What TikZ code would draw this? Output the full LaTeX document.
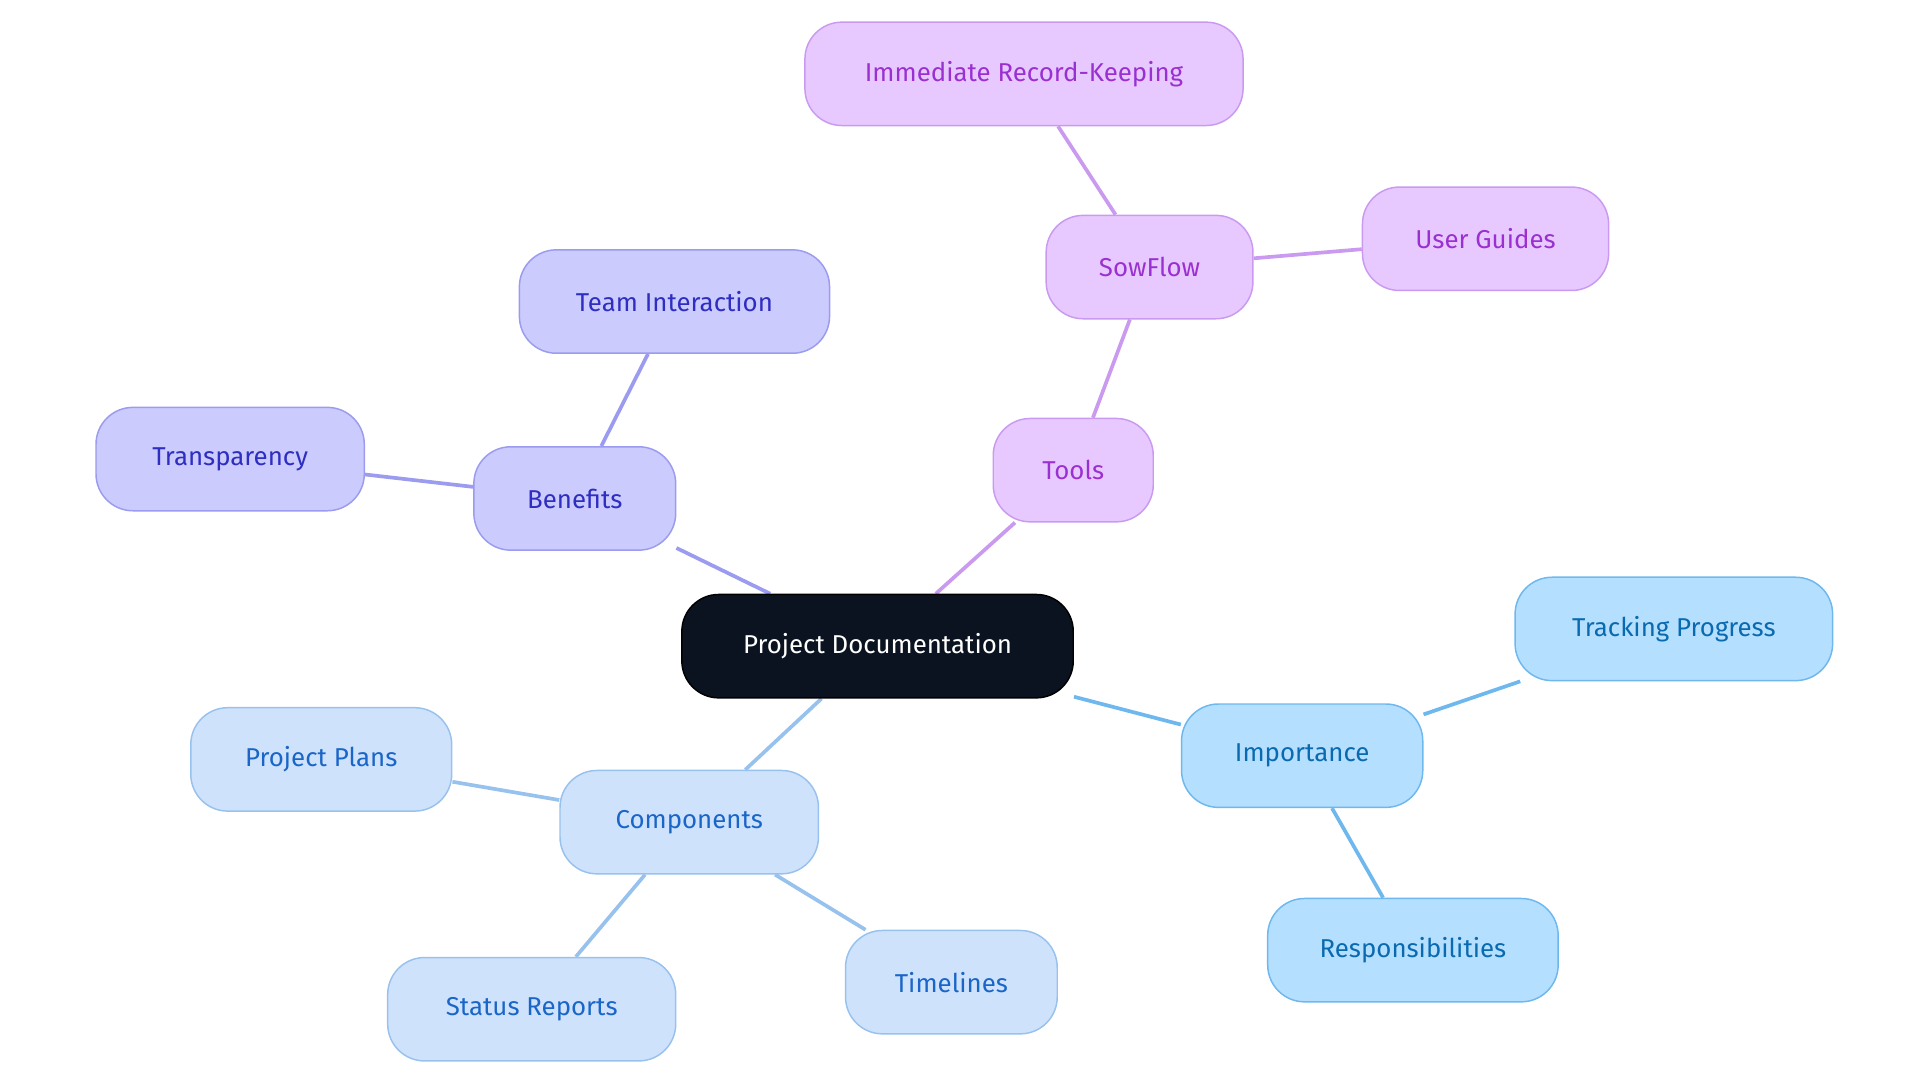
\documentclass[tikz,border=0pt]{standalone}
\usepackage{fontspec}
\setmainfont{Fira Sans}
\usetikzlibrary{backgrounds}
\definecolor{bF}{HTML}{CBCBFE}\definecolor{bD}{HTML}{9B9BEF}\definecolor{bT}{HTML}{2E2EC0}
\definecolor{vF}{HTML}{E8C9FF}\definecolor{vD}{HTML}{C99AEF}\definecolor{vT}{HTML}{9A30D0}
\definecolor{lF}{HTML}{B5DFFF}\definecolor{lD}{HTML}{6EB8EE}\definecolor{lT}{HTML}{0A6AB0}
\definecolor{pF}{HTML}{CFE2FB}\definecolor{pD}{HTML}{98C2EE}\definecolor{pT}{HTML}{1A66C8}
\definecolor{cF}{HTML}{0B1320}
\tikzset{
 box/.style={rounded corners=30pt,minimum height=84pt,line width=1.2pt,font=\fontsize{21pt}{25pt}\selectfont,inner sep=0pt},
 bb/.style={box,fill=bF,draw=bD,text=bT}, vb/.style={box,fill=vF,draw=vD,text=vT},
 lb/.style={box,fill=lF,draw=lD,text=lT}, pb/.style={box,fill=pF,draw=pD,text=pT},
 ln/.style={line width=3pt}}
\begin{document}
\begin{tikzpicture}[x=1pt,y=-1pt]
\useasboundingbox (0,0) rectangle (1560,880);
\node[box,fill=cF,draw=black,text=white,minimum width=318pt] (c) at (713,525) {Project Documentation};
\node[bb,minimum width=164pt] (b) at (467,405) {Benefits};
\node[bb,minimum width=252pt] (ti) at (548,245) {Team Interaction};
\node[bb,minimum width=218pt] (tr) at (187,373) {Transparency};
\node[vb,minimum width=130pt] (t) at (872,382) {Tools};
\node[vb,minimum width=168pt] (s) at (934,217) {SowFlow};
\node[vb,minimum width=356pt] (ir) at (832,60) {Immediate Record-Keeping};
\node[vb,minimum width=200pt] (ug) at (1207,194) {User Guides};
\node[lb,minimum width=196pt] (i) at (1058,614) {Importance};
\node[lb,minimum width=258pt] (tp) at (1360,511) {Tracking Progress};
\node[lb,minimum width=236pt] (r) at (1148,772) {Responsibilities};
\node[pb,minimum width=210pt] (co) at (560,668) {Components};
\node[pb,minimum width=212pt] (pp) at (261,617) {Project Plans};
\node[pb,minimum width=234pt] (sr) at (432,820) {Status Reports};
\node[pb,minimum width=172pt] (tl) at (773,798) {Timelines};
\begin{scope}[on background layer]
\draw[ln,bD] (c)--(b) (b)--(ti) (b)--(tr);
\draw[ln,vD] (c)--(t) (t)--(s) (s)--(ir) (s)--(ug);
\draw[ln,lD] (c)--(i) (i)--(tp) (i)--(r);
\draw[ln,pD] (c)--(co) (co)--(pp) (co)--(sr) (co)--(tl);
\end{scope}
\end{tikzpicture}
\end{document}
